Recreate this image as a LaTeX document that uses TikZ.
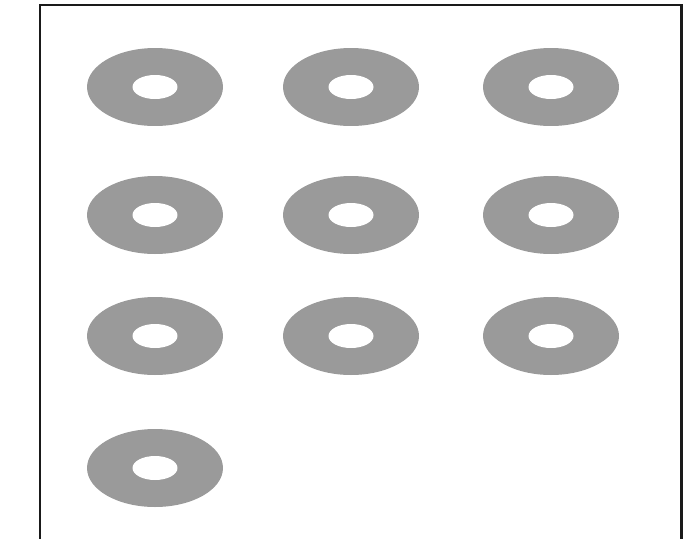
\documentclass[tikz,border=0pt]{standalone}
\usepackage{tikz}
\usetikzlibrary{shapes.geometric}
\definecolor{discgray}{HTML}{9A9A9A}
\definecolor{framek}{HTML}{1A1A1A}
\tikzset{
  disc/.style={ellipse,draw=none,fill=discgray,
               minimum width=2.72cm,minimum height=1.56cm,inner sep=0pt},
  hole/.style={ellipse,draw=none,fill=white,
               minimum width=0.9cm,minimum height=0.48cm,inner sep=0pt},
  frm/.style={draw=framek,line width=1.7pt},
}
\begin{document}
\begin{tikzpicture}[x=0.02cm,y=-0.02cm]
  \useasboundingbox (0,0) rectangle (689,538);
  \draw[frm] (40,5) rectangle (681,540);

  % three rows of three washers
  \foreach \r/\yy in {1/87,2/215,3/336}{
    \foreach \c/\xx in {1/155,2/351,3/551}{
      \node[disc] (d\r\c) at (\xx,\yy) {};
      \node[hole] (h\r\c) at (d\r\c.center) {};
    }
  }
  % last row, one washer
  \node[disc] (d41) at (155,468) {};
  \node[hole] (h41) at (d41.center) {};
\end{tikzpicture}
\end{document}
